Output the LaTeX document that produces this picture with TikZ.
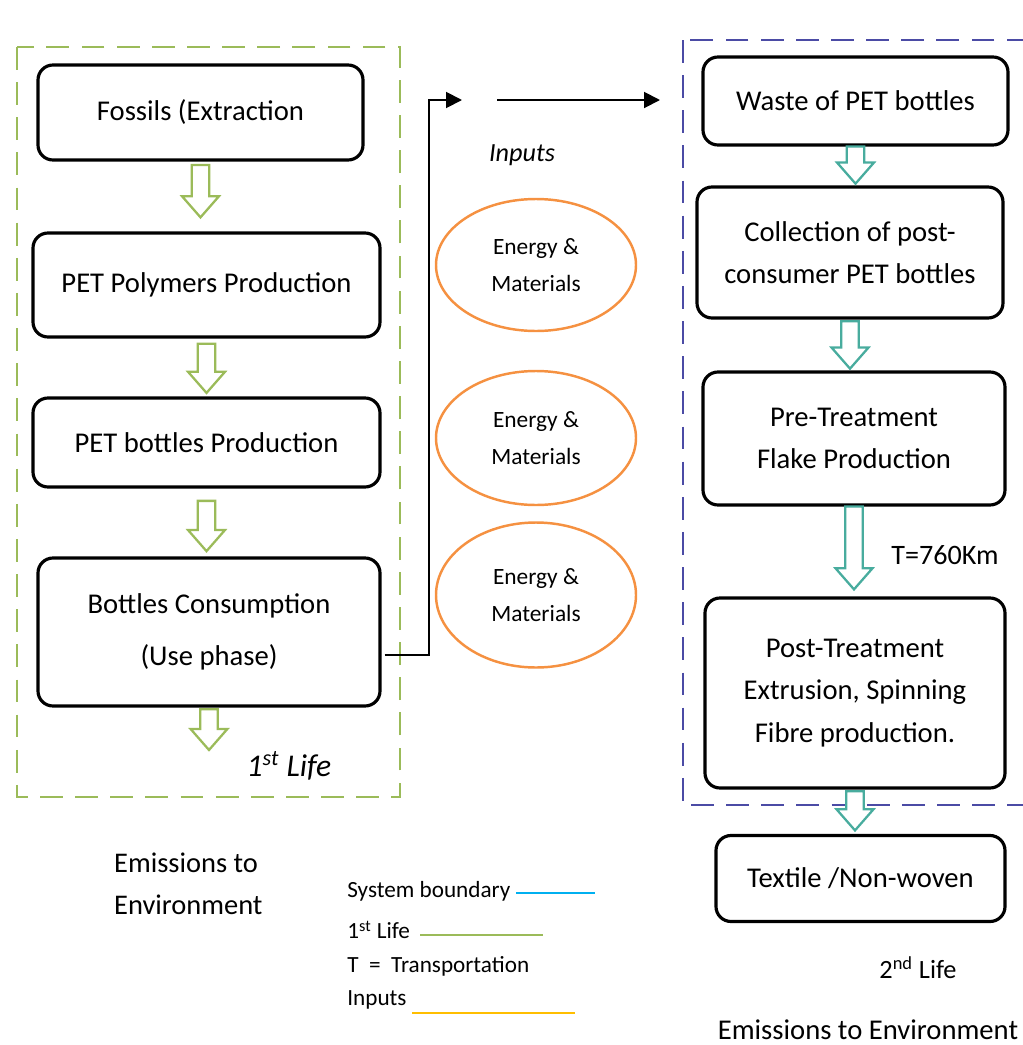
\documentclass[tikz,border=0pt]{standalone}
\usepackage{fontspec}
\setmainfont{Carlito}
\usetikzlibrary{arrows.meta,positioning,calc,shapes.geometric}
\definecolor{lifeOlive}{RGB}{155,187,89}
\definecolor{bndNavy}{RGB}{75,75,165}
\definecolor{flowTeal}{RGB}{72,172,158}
\definecolor{inputOrange}{RGB}{245,145,65}
\definecolor{legBlue}{RGB}{0,176,240}
\definecolor{legGold}{RGB}{255,190,0}

\def\px{0.02cm}   % one reference pixel
\def\arrsw{5pt}   % half width of a block arrow shaft
\def\arrhw{10.5pt} % half width of a block arrow head
\def\arrhl{12pt}  % length of a block arrow head

% ─── helper macro: hollow block arrow between two stages ───────
% #1=from point, #2=to point, #3=colour, #4=top gap, #5=bottom gap
\newcommand{\hollowarr}[5]{%
  \draw[#3, fill=white, line width=1.3pt, line join=miter]
    let \p1=#1, \p2=#2 in
    (\x1-\arrsw,\y1-#4) -- (\x1+\arrsw,\y1-#4) -- (\x1+\arrsw,\y2+#5+\arrhl)
    -- (\x1+\arrhw,\y2+#5+\arrhl) -- (\x1,\y2+#5) -- (\x1-\arrhw,\y2+#5+\arrhl)
    -- (\x1-\arrsw,\y2+#5+\arrhl) -- cycle;
}

\begin{document}
\begin{tikzpicture}[x=0.02cm, y=-0.02cm,
  stage/.style={draw=black, line width=1.8pt, rounded corners=0.3cm, fill=white,
                align=center, font=\fontsize{16.3}{24}\selectfont, inner sep=2pt},
  inputs/.style={ellipse, draw=inputOrange, line width=1.4pt, align=center,
                 font=\fontsize{13.3}{21}\selectfont, inner sep=0pt},
  bound/.style={draw=#1, line width=1.4pt, dash pattern=on 13pt off 7pt},
  flowarr/.style={-{Triangle[length=9pt,width=9pt]}, black, line width=1.1pt},
  legtext/.style={anchor=west, font=\fontsize{13.2}{15}\selectfont, inner sep=0pt},
  legline/.style={line width=1.2pt},
  note/.style={font=\fontsize{16.2}{24}\selectfont, align=left},
]
\useasboundingbox (0,0) rectangle (1023,1045);

% ─── system boundaries ─────────────────────────────────────────
\draw[bound=lifeOlive] (17,47) rectangle (400,797);
\draw[bound=bndNavy] (683,40) rectangle (1040,805);

% ─── 1st life chain ────────────────────────────────────────────
\node[stage, minimum width=325*\px, minimum height=95*\px] (fossil) at (200.5,112.5)
    {Fossils (Extraction};
\node[stage, minimum width=347*\px, minimum height=104*\px] (polymer) at (206.5,285)
    {PET Polymers Production};
\node[stage, minimum width=347*\px, minimum height=89*\px] (bottle) at (206.5,442.5)
    {PET bottles Production};
\node[stage, minimum width=342*\px, minimum height=148*\px] (consume) at (209,632)
    {Bottles Consumption\\[6pt](Use phase)};
\coordinate (emitL) at (200,750);

\hollowarr{(fossil.south)}{(polymer.north)}{lifeOlive}{2pt}{8pt}
\hollowarr{(polymer.south)}{(bottle.north)}{lifeOlive}{3pt}{2pt}
\hollowarr{(bottle.south)}{(consume.north)}{lifeOlive}{7pt}{3pt}
\hollowarr{(consume.south)}{(emitL)}{lifeOlive}{1pt}{0pt}

\node[font=\fontsize{18}{20}\selectfont\itshape] (life1) at (289,766) {1\textsuperscript{st} Life};

% ─── transfer to 2nd life ──────────────────────────────────────
\coordinate (outTop) at (462,100);
\coordinate (inStart) at (497,100);
\coordinate (inEnd) at (660,100);
\draw[flowarr] ($(consume.east)+(3,23)$) -- ++(44,0) |- (outTop);
\draw[flowarr] (inStart) -- (inEnd);

% ─── inputs ────────────────────────────────────────────────────
\node[font=\fontsize{14.9}{17}\selectfont\itshape] (inlab) at (522,155) {Inputs};
\foreach \i/\yc/\h in {1/265/132, 2/438/134, 3/595/145}{
  \node[inputs, minimum width=200*\px, minimum height=\h*\px] (em\i) at (536,\yc)
      {Energy \&\\Materials};
}

% ─── 2nd life chain ────────────────────────────────────────────
\node[stage, minimum width=305*\px, minimum height=88*\px] (waste) at (855.5,101)
    {Waste of PET bottles};
\node[stage, minimum width=306*\px, minimum height=131*\px] (collect) at (850,252.5)
    {Collection of post-\\consumer PET bottles};
\node[stage, minimum width=302*\px, minimum height=133*\px] (pretreat) at (854,438.5)
    {Pre-Treatment\\Flake Production};
\node[stage, minimum width=300*\px, minimum height=190*\px] (posttreat) at (855,693)
    {Post-Treatment\\Extrusion, Spinning\\Fibre production.};
\node[stage, minimum width=289*\px, minimum height=86*\px] (textile) at (860.5,878.5)
    {Textile /Non-woven};

\hollowarr{(waste.south)}{(collect.north)}{flowTeal}{0pt}{1pt}
\hollowarr{(collect.south)}{(pretreat.north)}{flowTeal}{1pt}{1pt}
\hollowarr{(pretreat.south)}{(posttreat.north)}{flowTeal}{0pt}{4pt}
\hollowarr{(posttreat.south)}{(textile.north)}{flowTeal}{1pt}{2pt}

\node[font=\fontsize{16}{18}\selectfont] (dist) at (945,555) {T=760Km};

% ─── emissions ─────────────────────────────────────────────────
\node[note, anchor=west] (emitLeft) at (108,884) {Emissions to\\Environment};
\node[font=\fontsize{15}{17}\selectfont] (life2) at (918,968) {2\textsuperscript{nd} Life};
\node[font=\fontsize{16.3}{18}\selectfont] (emitRight) at (868,1030) {Emissions to Environment};

% ─── legend ────────────────────────────────────────────────────
\node[legtext] (legSys) at (347,891) {System boundary};
\node[legtext] (legLife) at (347,930) {1\textsuperscript{st} Life};
\node[legtext] (legT) at (347,966) {T~~=~~Transportation};
\node[legtext] (legIn) at (347,1000) {Inputs};
\coordinate (sysEnd) at (595,893);
\coordinate (lifeStart) at (420,935);
\coordinate (lifeEnd) at (543,935);
\coordinate (inStartL) at (412,1013);
\coordinate (inEndL) at (575,1013);
\draw[legline, legBlue] ([xshift=3pt]legSys.east |- sysEnd) -- (sysEnd);
\draw[legline, lifeOlive] (lifeStart) -- (lifeEnd);
\draw[legline, legGold] (inStartL) -- (inEndL);

\end{tikzpicture}
\end{document}
